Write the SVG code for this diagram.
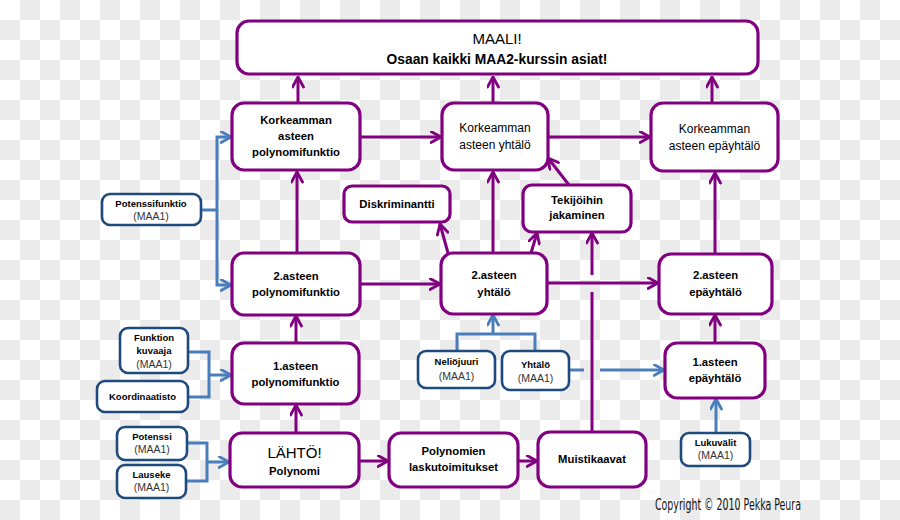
<svg xmlns="http://www.w3.org/2000/svg" width="900" height="520" viewBox="0 0 900 520">
<style>
.pn{fill:#fff;stroke:#800080;stroke-width:3.2}
.bn{fill:#fff;stroke:#1f4a7e;stroke-width:2.6}
.pc{fill:none;stroke:#800080;stroke-width:3}
.bc{fill:none;stroke:#4a7ebb;stroke-width:3}
text{font-family:"Liberation Sans",Arial,sans-serif;fill:#000;text-anchor:middle}
.b{font-weight:bold;font-size:11.3px}
.r{font-size:12px}
.sb{font-weight:bold;font-size:9.5px}
.sm{font-size:10.5px;fill:#333}
</style>
<defs>
<pattern id="chk" width="40" height="40" patternUnits="userSpaceOnUse">
<rect width="40" height="40" fill="#fff"/>
<rect x="20" y="0" width="20" height="20" fill="#ebebeb"/>
<rect x="0" y="20" width="20" height="20" fill="#ebebeb"/>
</pattern>
<marker id="ap" viewBox="0 0 13 13" refX="11.5" refY="6.5" markerWidth="13" markerHeight="13" markerUnits="userSpaceOnUse" orient="auto">
<path d="M1.5,1 L11.5,6.5 L1.5,12" fill="none" stroke="#800080" stroke-width="2.8" stroke-linecap="round" stroke-linejoin="round"/>
</marker>
<marker id="ab" viewBox="0 0 13 13" refX="11.5" refY="6.5" markerWidth="13" markerHeight="13" markerUnits="userSpaceOnUse" orient="auto">
<path d="M1.5,1 L11.5,6.5 L1.5,12" fill="none" stroke="#4a7ebb" stroke-width="2.8" stroke-linecap="round" stroke-linejoin="round"/>
</marker>
</defs>
<rect width="900" height="520" fill="url(#chk)"/>

<g id="connectors">
<path class="pc" d="M298,103 V77" marker-end="url(#ap)"/>
<path class="pc" d="M493,102 V77" marker-end="url(#ap)"/>
<path class="pc" d="M712,103 V77" marker-end="url(#ap)"/>
<path class="pc" d="M361,137 H441" marker-end="url(#ap)"/>
<path class="pc" d="M548,137 H650" marker-end="url(#ap)"/>
<path class="pc" d="M297,253 V172" marker-end="url(#ap)"/>
<path class="pc" d="M493,253 V172" marker-end="url(#ap)"/>
<path class="pc" d="M715,254 V173" marker-end="url(#ap)"/>
<path class="pc" d="M360,284 H440" marker-end="url(#ap)"/>
<path class="pc" d="M547,283 H658" marker-end="url(#ap)"/>
<path class="pc" d="M448,253 L440,224" marker-end="url(#ap)"/>
<path class="pc" d="M531,253 L537,233" marker-end="url(#ap)"/>
<path class="pc" d="M569,185 L548,158" marker-end="url(#ap)"/>
<path class="pc" d="M592,432 V292"/>
<path class="pc" d="M592,275 V233" marker-end="url(#ap)"/>
<path class="pc" d="M296,343 V316" marker-end="url(#ap)"/>
<path class="pc" d="M715,343 V315" marker-end="url(#ap)"/>
<path class="pc" d="M296,433 V405" marker-end="url(#ap)"/>
<path class="pc" d="M359,461 H388" marker-end="url(#ap)"/>
<path class="pc" d="M518,461 H537" marker-end="url(#ap)"/>

<path class="bc" d="M201,210 H217 V137 H231" marker-end="url(#ab)"/>
<path class="bc" d="M217,210 V285 H231" marker-end="url(#ab)"/>
<path class="bc" d="M188,352 H209 V397 H188"/>
<path class="bc" d="M209,375 H231" marker-end="url(#ab)"/>
<path class="bc" d="M187,443 H207 V481 H186"/>
<path class="bc" d="M207,462 H229" marker-end="url(#ab)"/>
<path class="bc" d="M457,351 V334 H535 V351"/>
<path class="bc" d="M493,334 V315" marker-end="url(#ab)"/>
<path class="bc" d="M569,370 H584"/>
<path class="bc" d="M600,370 H664" marker-end="url(#ab)"/>
<path class="bc" d="M716,433 V399" marker-end="url(#ab)"/>
</g>

<g id="goal">
<rect class="pn" x="237" y="21" width="521" height="53" rx="12"/>
<text x="497" y="44" style="font-size:15px">MAALI!</text>
<text x="497" y="64" style="font-weight:bold;font-size:13.8px">Osaan kaikki MAA2-kurssin asiat!</text>
</g>
<g id="kpoly">
<rect class="pn" x="232" y="103" width="128" height="67" rx="12"/>
<text class="b" x="296" y="124">Korkeamman</text>
<text class="b" x="296" y="140">asteen</text>
<text class="b" x="296" y="156">polynomifunktio</text>
</g>
<g id="kyht">
<rect class="pn" x="442" y="103" width="106" height="67" rx="12"/>
<text class="r" x="495" y="132">Korkeamman</text>
<text class="r" x="495" y="149">asteen yhtälö</text>
</g>
<g id="kepa">
<rect class="pn" x="651" y="103" width="127" height="68" rx="12"/>
<text class="r" x="714.5" y="133">Korkeamman</text>
<text class="r" x="714.5" y="150">asteen epäyhtälö</text>
</g>
<g id="disk">
<rect class="pn" x="344" y="186" width="106" height="36" rx="8"/>
<text class="b" x="397" y="208">Diskriminantti</text>
</g>
<g id="teki">
<rect class="pn" x="523" y="185" width="108" height="47" rx="9"/>
<text class="b" x="577" y="204">Tekijöihin</text>
<text class="b" x="577" y="219">jakaminen</text>
</g>
<g id="potf">
<rect class="bn" x="102" y="194" width="99" height="31" rx="8"/>
<text class="sb" x="151" y="207">Potenssifunktio</text>
<text class="sm" x="151" y="220">(MAA1)</text>
</g>
<g id="p2">
<rect class="pn" x="232" y="253" width="128" height="62" rx="12"/>
<text class="b" x="296" y="280">2.asteen</text>
<text class="b" x="296" y="296">polynomifunktio</text>
</g>
<g id="y2">
<rect class="pn" x="441" y="253" width="106" height="61" rx="12"/>
<text class="b" x="494" y="279">2.asteen</text>
<text class="b" x="494" y="296">yhtälö</text>
</g>
<g id="e2">
<rect class="pn" x="659" y="254" width="113" height="60" rx="12"/>
<text class="b" x="715.5" y="279">2.asteen</text>
<text class="b" x="715.5" y="296">epäyhtälö</text>
</g>
<g id="funk">
<rect class="bn" x="120" y="328" width="68" height="45" rx="8"/>
<text class="sb" x="154" y="341">Funktion</text>
<text class="sb" x="154" y="354">kuvaaja</text>
<text class="sm" x="154" y="368">(MAA1)</text>
</g>
<g id="koord">
<rect class="bn" x="97" y="381" width="91" height="31" rx="8"/>
<text class="sb" x="142.5" y="400">Koordinaatisto</text>
</g>
<g id="p1">
<rect class="pn" x="232" y="343" width="127" height="61" rx="12"/>
<text class="b" x="295.5" y="370">1.asteen</text>
<text class="b" x="295.5" y="386">polynomifunktio</text>
</g>
<g id="neli">
<rect class="bn" x="418" y="351" width="77" height="37" rx="8"/>
<text class="sb" x="456.5" y="365">Neliöjuuri</text>
<text class="sm" x="456.5" y="379.5">(MAA1)</text>
</g>
<g id="yht">
<rect class="bn" x="502" y="351" width="67" height="39" rx="8"/>
<text class="sb" x="535.5" y="368">Yhtälö</text>
<text class="sm" x="535.5" y="381.5">(MAA1)</text>
</g>
<g id="e1">
<rect class="pn" x="665" y="343" width="100" height="55" rx="12"/>
<text class="b" x="715" y="366">1.asteen</text>
<text class="b" x="715" y="382">epäyhtälö</text>
</g>
<g id="potenssi">
<rect class="bn" x="117" y="427" width="70" height="33" rx="8"/>
<text class="sb" x="152" y="440">Potenssi</text>
<text class="sm" x="152" y="453">(MAA1)</text>
</g>
<g id="lauseke">
<rect class="bn" x="117" y="465" width="69" height="33" rx="8"/>
<text class="sb" x="151.5" y="478">Lauseke</text>
<text class="sm" x="151.5" y="491">(MAA1)</text>
</g>
<g id="lahto">
<rect class="pn" x="230" y="433" width="129" height="54" rx="12"/>
<text x="294.5" y="458" style="font-size:15px">LÄHTÖ!</text>
<text class="b" x="294.5" y="475">Polynomi</text>
</g>
<g id="lasku">
<rect class="pn" x="389" y="433" width="129" height="54" rx="12"/>
<text class="b" x="453.5" y="455">Polynomien</text>
<text class="b" x="453.5" y="471">laskutoimitukset</text>
</g>
<g id="muisti">
<rect class="pn" x="538" y="432" width="108" height="55" rx="12"/>
<text class="b" x="592" y="463">Muistikaavat</text>
</g>
<g id="luku">
<rect class="bn" x="681" y="433" width="69" height="33" rx="8"/>
<text class="sb" x="715.5" y="446">Lukuvälit</text>
<text class="sm" x="715.5" y="459">(MAA1)</text>
</g>
<text x="655" y="510" style="font-family:'Liberation Sans Narrow','DejaVu Sans Condensed',sans-serif;font-size:15px;text-anchor:start;fill:#111" textLength="146" lengthAdjust="spacingAndGlyphs">Copyright © 2010 Pekka Peura</text>
</svg>
